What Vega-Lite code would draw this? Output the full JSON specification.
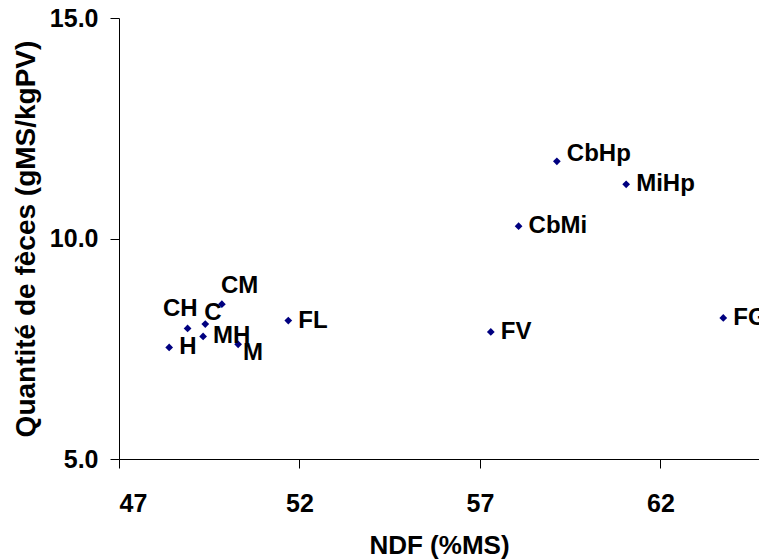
{
  "$schema": "https://vega.github.io/schema/vega-lite/v6.json",
  "width": 640,
  "height": 441,
  "autosize": {"type": "none"},
  "padding": {"left": 119, "top": 18, "right": 0, "bottom": 101},
  "background": "white",
  "config": {
    "view": {"stroke": null},
    "font": "Liberation Sans",
    "axis": {"grid": false, "domainColor": "black", "tickColor": "black", "labelColor": "black", "titleColor": "black", "labelFont": "Liberation Sans", "titleFont": "Liberation Sans", "labelFontWeight": "bold", "titleFontWeight": "bold", "labelFontSize": 25, "titleFontSize": 26, "tickSize": 9, "domainWidth": 1, "tickWidth": 1}
  },
  "data": {
    "values": [
      {"label": "H", "ndf": 48.39, "feces": 7.53, "pos": "right"},
      {"label": "CH", "ndf": 48.90, "feces": 7.96, "pos": "upleft"},
      {"label": "C", "ndf": 49.39, "feces": 8.06, "pos": "upright"},
      {"label": "MH", "ndf": 49.33, "feces": 7.78, "pos": "right"},
      {"label": "CM", "ndf": 49.85, "feces": 8.51, "pos": "up"},
      {"label": "M", "ndf": 50.30, "feces": 7.60, "pos": "downright"},
      {"label": "FL", "ndf": 51.69, "feces": 8.14, "pos": "right"},
      {"label": "CbHp", "ndf": 59.13, "feces": 11.75, "pos": "rightup"},
      {"label": "MiHp", "ndf": 61.05, "feces": 11.23, "pos": "right"},
      {"label": "CbMi", "ndf": 58.07, "feces": 10.28, "pos": "right"},
      {"label": "FV", "ndf": 57.30, "feces": 7.88, "pos": "right"},
      {"label": "FG", "ndf": 63.74, "feces": 8.20, "pos": "right"}
    ]
  },
  "encoding": {
    "x": {"field": "ndf", "type": "quantitative", "scale": {"domain": [47, 64.73], "nice": false, "zero": false},
      "axis": {"values": [47, 52, 57, 62], "title": "NDF (%MS)", "labelPadding": 23, "titleBaseline": "alphabetic", "titleY": 94, "labelAngle": 0}},
    "y": {"field": "feces", "type": "quantitative", "scale": {"domain": [5, 15], "nice": false, "zero": false},
      "axis": {"values": [5, 10, 15], "format": ".1f", "title": "Quantité de fèces (gMS/kgPV)", "titleFontSize": 28, "labelPadding": 12, "titleBaseline": "middle", "titleX": -93}}
  },
  "layer": [
    {"mark": {"type": "point", "shape": "diamond", "filled": true, "color": "#000080", "size": 60, "opacity": 1}},
    {"transform": [{"filter": "datum.pos == 'right'"}],
     "mark": {"type": "text", "align": "left", "baseline": "middle", "dx": 10, "dy": 0, "fontSize": 24, "fontWeight": "bold", "color": "black", "clip": true},
     "encoding": {"text": {"field": "label"}}},
    {"transform": [{"filter": "datum.pos == 'rightup'"}],
     "mark": {"type": "text", "align": "left", "baseline": "middle", "dx": 10, "dy": -7, "fontSize": 24, "fontWeight": "bold", "color": "black"},
     "encoding": {"text": {"field": "label"}}},
    {"transform": [{"filter": "datum.pos == 'upleft'"}],
     "mark": {"type": "text", "align": "right", "baseline": "middle", "dx": 10, "dy": -19, "fontSize": 24, "fontWeight": "bold", "color": "black"},
     "encoding": {"text": {"field": "label"}}},
    {"transform": [{"filter": "datum.pos == 'upright'"}],
     "mark": {"type": "text", "align": "left", "baseline": "middle", "dx": -1, "dy": -11, "fontSize": 24, "fontWeight": "bold", "color": "black"},
     "encoding": {"text": {"field": "label"}}},
    {"transform": [{"filter": "datum.pos == 'up'"}],
     "mark": {"type": "text", "align": "left", "baseline": "middle", "dx": -1, "dy": -18, "fontSize": 24, "fontWeight": "bold", "color": "black"},
     "encoding": {"text": {"field": "label"}}},
    {"transform": [{"filter": "datum.pos == 'downright'"}],
     "mark": {"type": "text", "align": "left", "baseline": "middle", "dx": 5, "dy": 9, "fontSize": 24, "fontWeight": "bold", "color": "black"},
     "encoding": {"text": {"field": "label"}}}
  ]
}
